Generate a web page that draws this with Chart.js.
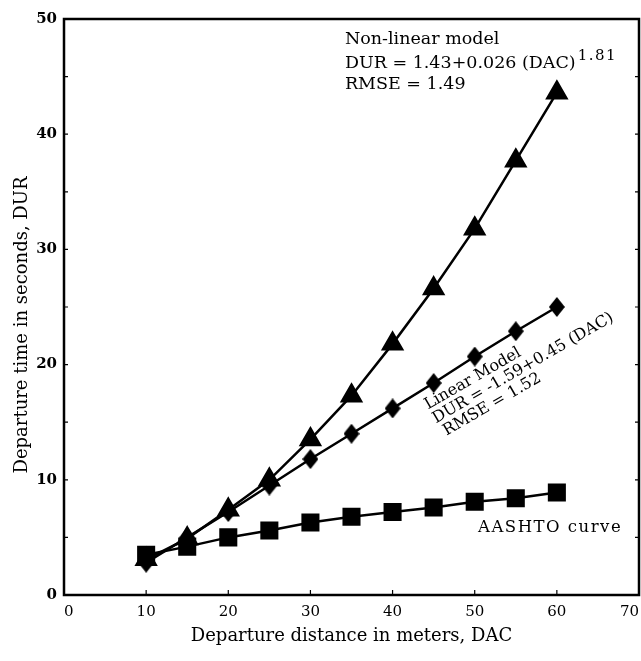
<!DOCTYPE html>
<html>
<head>
<meta charset="utf-8">
<script src="https://cdn.jsdelivr.net/npm/chart.js@4.4.1/dist/chart.umd.min.js"></script>
<style>
  html, body { margin: 0; padding: 0; background: #fff; }
  #wrap { width: 641px; height: 661px; position: relative; }
</style>
</head>
<body>
<div id="wrap"><canvas id="c" width="641" height="661"></canvas></div>
<script>
// ---- data ----
const distances = [10, 15, 20, 25, 30, 35, 40, 45, 50, 55, 60];
const nonLinearDur = [3.1, 4.9, 7.4, 10.0, 13.5, 17.3, 21.8, 26.6, 31.8, 37.7, 43.6];
const linearDur = [2.8, 5.0, 7.2, 9.5, 11.8, 14.0, 16.2, 18.4, 20.7, 22.9, 25.0];
const aashtoDur = [3.5, 4.2, 5.0, 5.6, 6.3, 6.8, 7.2, 7.6, 8.1, 8.4, 8.9];
const xTicks = [0, 10, 20, 30, 40, 50, 60, 70];
const yTicks = [0, 10, 20, 30, 40, 50];

const SERIF = '"DejaVu Serif", "Liberation Serif", serif';

function pts(ys) { return distances.map((x, i) => ({ x: x, y: ys[i] })); }

// tall diamond marker
const diamond = document.createElement('canvas');
diamond.width = 16; diamond.height = 20;
(function () {
  const g = diamond.getContext('2d');
  g.fillStyle = '#000';
  g.beginPath();
  g.moveTo(8, 0); g.lineTo(16, 10); g.lineTo(8, 20); g.lineTo(0, 10);
  g.closePath(); g.fill();
})();

const noPad = () => ({ left: 0, top: 0, right: 0, bottom: 0 });

const frame = {
  id: 'frame',
  afterDatasetsDraw(chart) {
    const { ctx, chartArea: a, scales: { x, y } } = chart;
    ctx.save();
    ctx.strokeStyle = '#000';
    ctx.lineWidth = 1.2;
    // inner tick marks
    ctx.beginPath();
    for (let v = 0; v <= 50; v += 5) {
      const py = y.getPixelForValue(v);
      ctx.moveTo(a.left, py); ctx.lineTo(a.left + 4, py);
      ctx.moveTo(a.right, py); ctx.lineTo(a.right - 4, py);
    }
    for (let v = 0; v <= 70; v += 10) {
      const px = x.getPixelForValue(v);
      ctx.moveTo(px, a.bottom); ctx.lineTo(px, a.bottom - 5);
    }
    ctx.stroke();
    // border
    ctx.lineWidth = 2.5;
    ctx.strokeRect(a.left, a.top, a.right - a.left, a.bottom - a.top);

    ctx.fillStyle = '#000';
    ctx.textBaseline = 'alphabetic';
    ctx.textAlign = 'left';

    // y axis title
    ctx.save();
    ctx.translate(22, 325);
    ctx.rotate(-Math.PI / 2);
    ctx.textAlign = 'center';
    ctx.textBaseline = 'middle';
    ctx.font = '18px ' + SERIF;
    ctx.fillText('Departure time in seconds, DUR', 0, 0);
    ctx.restore();

    // non-linear annotation
    const nx = x.getPixelForValue(34.2);
    const ny = y.getPixelForValue(47.8);
    ctx.font = '17.5px ' + SERIF;
    ctx.fillText('Non-linear model', nx, ny);
    const l2 = 'DUR = 1.43+0.026 (DAC)';
    ctx.fillText(l2, nx, ny + 24);
    const w2 = ctx.measureText(l2).width;
    ctx.save();
    ctx.font = '15px ' + SERIF;
    try { ctx.letterSpacing = '1.5px'; } catch (e) {}
    ctx.fillText('1.81', nx + w2 + 2, ny + 16);
    ctx.restore();
    ctx.font = '17.5px ' + SERIF;
    ctx.fillText('RMSE = 1.49', nx, ny + 45);

    // rotated linear model text
    ctx.save();
    ctx.translate(x.getPixelForValue(44.3), y.getPixelForValue(16.1));
    ctx.rotate(-30 * Math.PI / 180);
    ctx.font = '16px ' + SERIF;
    ctx.fillText('Linear Model', 0, 0);
    ctx.fillText('DUR = -1.59+0.45 (DAC)', 0, 16);
    ctx.fillText('RMSE = 1.52', 3, 32);
    ctx.restore();

    ctx.save();
    ctx.font = '16.5px ' + SERIF;
    try { ctx.letterSpacing = '1.5px'; } catch (e) {}
    ctx.fillText('AASHTO curve', x.getPixelForValue(50.4), y.getPixelForValue(5.5));
    ctx.restore();
    ctx.restore();
  }
};

new Chart(document.getElementById('c'), {
  type: 'line',
  data: {
    datasets: [
      { label: 'AASHTO', data: pts(aashtoDur), borderColor: '#000', backgroundColor: '#000',
        borderWidth: 2.5, pointStyle: 'rect', pointRadius: 11, pointHoverRadius: 11, tension: 0 },
      { label: 'Linear', data: pts(linearDur), borderColor: '#000', backgroundColor: '#000',
        borderWidth: 2.5, pointStyle: diamond, pointRadius: 10, tension: 0 },
      { label: 'Non-linear', data: pts(nonLinearDur), borderColor: '#000', backgroundColor: '#000',
        borderWidth: 2.5, pointStyle: 'triangle', pointRadius: 11, pointHoverRadius: 11, tension: 0 }
    ]
  },
  options: {
    responsive: false,
    animation: false,
    events: [],
    layout: { autoPadding: false, padding: { top: 19, right: 2, left: 0, bottom: 0 } },
    plugins: { legend: { display: false }, tooltip: { enabled: false } },
    scales: {
      x: {
        type: 'linear', min: 0, max: 70,
        afterBuildTicks(s) { s.ticks = xTicks.map(v => ({ value: v })); },
        afterFit(s) { s.height = 66; s.paddingLeft = 0; s.paddingRight = 0; s.getPadding = noPad; },
        grid: { display: false, drawTicks: false },
        border: { display: false },
        ticks: { color: '#000', padding: 8, maxRotation: 0, align: 'inner',
                 font: { family: SERIF, size: 15 } },
        title: { display: true, text: 'Departure distance in meters, DAC', color: '#000',
                 font: { family: SERIF, size: 18 }, padding: { top: 0, bottom: 14 } }
      },
      y: {
        type: 'linear', min: 0, max: 50,
        afterBuildTicks(s) { s.ticks = yTicks.map(v => ({ value: v })); },
        afterFit(s) { s.width = 64; s.paddingTop = 0; s.paddingBottom = 0; s.getPadding = noPad; },
        grid: { display: false, drawTicks: false },
        border: { display: false },
        ticks: { color: '#000', padding: 7, font: { family: SERIF, size: 15, weight: 'bold' } },
        title: { display: false }
      }
    }
  },
  plugins: [frame]
});
</script>
</body>
</html>
